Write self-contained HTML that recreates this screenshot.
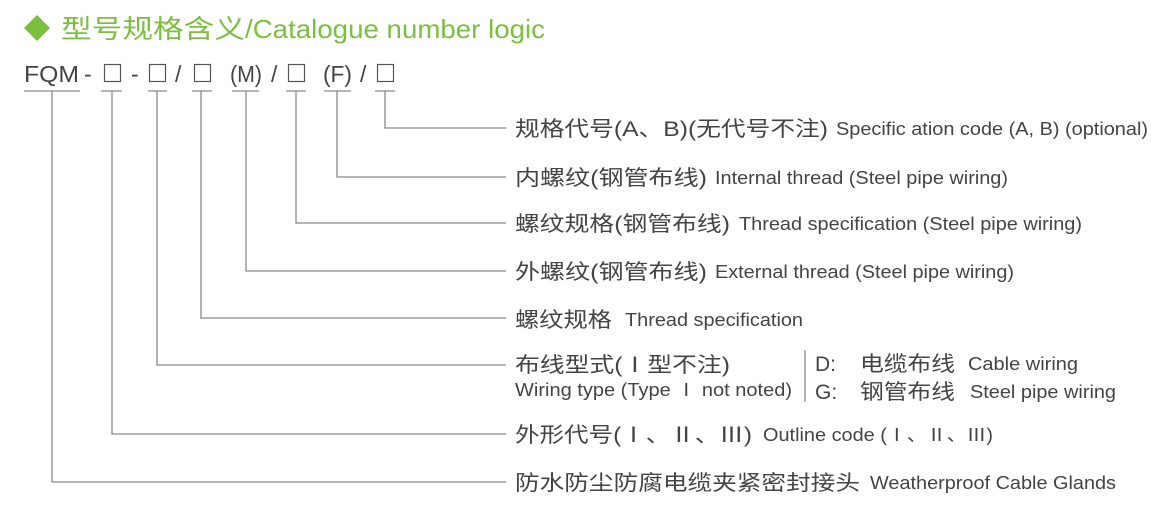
<!DOCTYPE html>
<html><head><meta charset="utf-8"><style>
html,body{margin:0;padding:0;background:#fff;width:1169px;height:514px;overflow:hidden}
svg{display:block}
text{font-family:"Liberation Sans","Noto Sans CJK SC",sans-serif;fill:#444}
</style></head><body>
<svg width="1169" height="514" viewBox="0 0 1169 514" xmlns="http://www.w3.org/2000/svg">
<polygon points="37,15 50,28 37,41 24,28" fill="#7cbf3f"/>
<text x="61" y="38" font-size="26" style="fill:#7cbf3f" textLength="184" lengthAdjust="spacingAndGlyphs">型号规格含义</text>
<text x="245" y="38" font-size="26" style="fill:#7cbf3f" textLength="300" lengthAdjust="spacingAndGlyphs">/Catalogue number logic</text>

<g font-size="23">
<text x="24" y="82" textLength="55" lengthAdjust="spacingAndGlyphs">FQM</text>
<text x="84" y="82">-</text>
<text x="131" y="82">-</text>
<text x="175" y="82">/</text>
<text x="230" y="82" textLength="32" lengthAdjust="spacingAndGlyphs">(M)</text>
<text x="271" y="82">/</text>
<text x="323" y="82" textLength="29" lengthAdjust="spacingAndGlyphs">(F)</text>
<text x="360" y="82">/</text>
</g>
<g fill="none" stroke="#555" stroke-width="1.2">
<rect x="104.5" y="64.5" width="16" height="17"/>
<rect x="149.5" y="64.5" width="16" height="17"/>
<rect x="194.5" y="64.5" width="16" height="17"/>
<rect x="288.5" y="64.5" width="16" height="17"/>
<rect x="377.5" y="64.5" width="16" height="17"/>
</g>

<g stroke="#8a8a8a" stroke-width="1.3" fill="none">
<line x1="24" y1="91" x2="80" y2="91"/>
<line x1="101" y1="91" x2="122" y2="91"/>
<line x1="148" y1="91" x2="167" y2="91"/>
<line x1="192" y1="91" x2="212" y2="91"/>
<line x1="232" y1="91" x2="259" y2="91"/>
<line x1="286" y1="91" x2="306" y2="91"/>
<line x1="324" y1="91" x2="351" y2="91"/>
<line x1="375" y1="91" x2="395" y2="91"/>
<polyline points="385,91 385,128 506,128"/>
<polyline points="337,91 337,177 506,177"/>
<polyline points="296,91 296,223 506,223"/>
<polyline points="246,91 246,271 506,271"/>
<polyline points="201,91 201,318 506,318"/>
<polyline points="157,91 157,365 506,365"/>
<polyline points="112,91 112,434 506,434"/>
<polyline points="52,91 52,482 506,482"/>
<line x1="805" y1="350" x2="805" y2="402"/>
</g>

<g>
<text x="515" y="136" font-size="21" textLength="313" lengthAdjust="spacingAndGlyphs">规格代号(A、B)(无代号不注)</text>
<text x="836" y="135" font-size="18" textLength="312" lengthAdjust="spacingAndGlyphs">Specific ation code (A, B) (optional)</text>

<text x="515" y="185" font-size="21" textLength="192" lengthAdjust="spacingAndGlyphs">内螺纹(钢管布线)</text>
<text x="715" y="184" font-size="18" textLength="293" lengthAdjust="spacingAndGlyphs">Internal thread (Steel pipe wiring)</text>

<text x="515" y="231" font-size="21" textLength="215" lengthAdjust="spacingAndGlyphs">螺纹规格(钢管布线)</text>
<text x="739" y="230" font-size="18" textLength="343" lengthAdjust="spacingAndGlyphs">Thread specification (Steel pipe wiring)</text>

<text x="515" y="279" font-size="21" textLength="192" lengthAdjust="spacingAndGlyphs">外螺纹(钢管布线)</text>
<text x="715" y="278" font-size="18" textLength="299" lengthAdjust="spacingAndGlyphs">External thread (Steel pipe wiring)</text>

<text x="515" y="327" font-size="21" textLength="97" lengthAdjust="spacingAndGlyphs">螺纹规格</text>
<text x="625" y="326" font-size="18" textLength="178" lengthAdjust="spacingAndGlyphs">Thread specification</text>

<text x="515" y="372" font-size="21" textLength="215" lengthAdjust="spacingAndGlyphs">布线型式(Ⅰ型不注)</text>
<text x="515" y="396" font-size="18" textLength="277" lengthAdjust="spacingAndGlyphs">Wiring type (Type Ⅰ not noted)</text>
<text x="815" y="371" font-size="21">D:</text>
<text x="860" y="371" font-size="21" textLength="95" lengthAdjust="spacingAndGlyphs">电缆布线</text>
<text x="968" y="370" font-size="18" textLength="110" lengthAdjust="spacingAndGlyphs">Cable wiring</text>
<text x="815" y="399" font-size="21">G:</text>
<text x="860" y="399" font-size="21" textLength="95" lengthAdjust="spacingAndGlyphs">钢管布线</text>
<text x="970" y="398" font-size="18" textLength="146" lengthAdjust="spacingAndGlyphs">Steel pipe wiring</text>

<text x="515" y="442" font-size="21" textLength="237" lengthAdjust="spacingAndGlyphs">外形代号(Ⅰ、Ⅱ、Ⅲ)</text>
<text x="763" y="441" font-size="18" textLength="230" lengthAdjust="spacingAndGlyphs">Outline code (Ⅰ、Ⅱ、Ⅲ)</text>

<text x="515" y="490" font-size="21" textLength="345" lengthAdjust="spacingAndGlyphs">防水防尘防腐电缆夹紧密封接头</text>
<text x="870" y="489" font-size="18" textLength="246" lengthAdjust="spacingAndGlyphs">Weatherproof Cable Glands</text>
</g>
</svg>
</body></html>
